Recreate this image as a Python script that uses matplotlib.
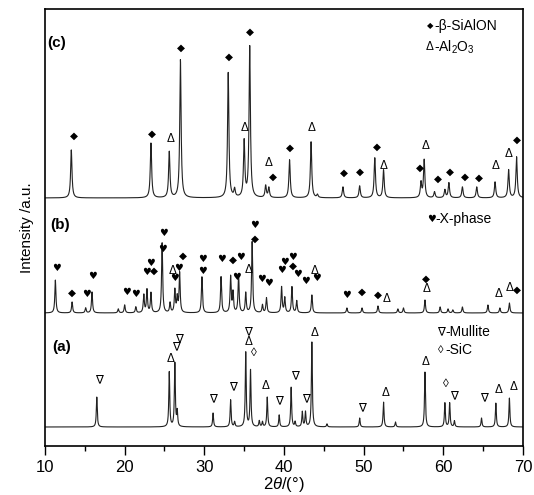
import numpy as np
import matplotlib
matplotlib.use("Agg")
import matplotlib.pyplot as plt
from matplotlib.ticker import MultipleLocator

plt.rcParams['font.family'] = ['Liberation Sans', 'DejaVu Sans']
plt.rcParams['mathtext.fontset'] = 'custom'
plt.rcParams['mathtext.rm'] = 'Liberation Sans'
plt.rcParams['mathtext.it'] = 'Liberation Sans:italic'

# peak positions (2theta, deg) and heights (a.u.)
c_pos = [13.3, 23.3, 25.6, 27.0, 33.0, 33.8, 35.0, 35.7, 37.7, 38.1, 40.7, 43.4, 44.2,
         47.4, 49.5, 51.4, 52.5, 57.2, 57.6, 58.9, 60.2, 60.7, 62.4, 64.2, 66.5, 68.2, 69.2]
c_int = [48, 55, 46, 138, 125, 8, 56, 151, 12, 10, 38, 56, 3,
         11, 12, 40, 28, 15, 38, 6, 8, 15, 11, 11, 16, 28, 41]

b_pos = [11.3, 13.4, 15.1, 15.9, 19.2, 20.0, 21.4, 22.4, 22.8, 23.3, 24.7, 25.7, 26.3,
         26.6, 26.9, 29.7, 32.1, 33.3, 33.6, 34.3, 35.2, 36.0, 37.3, 37.8, 39.7, 40.1,
         41.0, 41.6, 43.5, 47.9, 49.8, 51.8, 54.3, 55.0, 57.7, 59.6, 60.6, 61.2, 62.4,
         65.6, 67.1, 68.3]
b_int = [33, 11, 5, 21, 4, 8, 6, 18, 23, 20, 70, 10, 23,
         15, 40, 36, 36, 36, 20, 38, 20, 71, 8, 15, 26, 15,
         26, 12, 18, 5, 5, 7, 4, 5, 13, 6, 4, 3, 6,
         8, 5, 10]

a_pos = [16.5, 25.6, 26.3, 26.6, 31.1, 33.3, 33.8, 35.2, 35.8, 36.9, 37.3, 37.9, 39.4,
         40.9, 41.4, 42.3, 42.7, 43.5, 45.4, 49.5, 52.5, 54.0, 57.7, 60.2, 60.8, 61.4,
         64.8, 66.6, 68.3]
a_int = [30, 55, 64, 15, 14, 27, 5, 75, 57, 6, 5, 30, 12,
         40, 5, 15, 15, 85, 3, 9, 25, 5, 55, 24, 24, 6,
         9, 24, 29]

offsets = {"a": 19, "b": 133, "c": 248}

# phase markers: (symbol, 2theta, height)
c_marks = [("◆", 13.6, 310), ("◆", 23.4, 312), ("Δ", 25.8, 307), ("◆", 27.1, 398),
           ("◆", 33.1, 389), ("◆", 35.7, 414), ("Δ", 35.0, 318), ("Δ", 38.1, 283),
           ("◆", 38.6, 269), ("◆", 40.7, 298), ("Δ", 43.4, 318), ("◆", 47.5, 273),
           ("◆", 49.6, 274), ("◆", 51.7, 299), ("Δ", 52.5, 280), ("◆", 57.1, 278),
           ("Δ", 57.8, 300), ("◆", 59.3, 267), ("◆", 60.9, 274), ("◆", 62.7, 269),
           ("◆", 64.5, 268), ("Δ", 66.5, 280), ("Δ", 68.2, 292), ("◆", 69.2, 306)]

b_marks = [("♥", 11.5, 178), ("◆", 13.4, 153), ("♥", 15.2, 152), ("♥", 16.0, 170),
           ("♥", 20.2, 154), ("♥", 21.4, 152), ("♥", 22.7, 174), ("♥", 23.2, 183),
           ("◆", 23.7, 175), ("♥", 24.7, 197), ("♥", 24.9, 213), ("Δ", 26.0, 175),
           ("♥", 26.3, 168), ("♥", 26.7, 178), ("◆", 27.3, 190), ("♥", 29.8, 187),
           ("♥", 29.8, 175), ("♥", 32.2, 187), ("◆", 33.6, 186), ("♥", 34.6, 189),
           ("♥", 34.1, 169), ("Δ", 35.5, 176), ("◆", 36.3, 207), ("♥", 36.3, 221),
           ("♥", 37.2, 167), ("♥", 38.1, 163), ("♥", 39.7, 176), ("♥", 40.1, 184),
           ("♥", 41.1, 189), ("◆", 41.1, 180), ("♥", 41.7, 172), ("♥", 42.7, 165),
           ("Δ", 43.8, 175), ("♥", 44.1, 168), ("♥", 47.8, 151), ("◆", 49.8, 154),
           ("◆", 51.8, 151), ("Δ", 52.9, 147), ("◆", 57.8, 167), ("Δ", 57.9, 157),
           ("Δ", 67.0, 152), ("Δ", 68.3, 158), ("◆", 69.3, 156)]

a_marks = [("∇", 16.8, 66), ("Δ", 25.8, 87), ("∇", 26.4, 99), ("∇", 26.8, 107),
           ("∇", 31.1, 47), ("∇", 33.6, 59), ("∇", 35.5, 114), ("Δ", 35.5, 104),
           ("◊", 36.2, 93), ("Δ", 37.7, 60), ("∇", 39.4, 45), ("∇", 41.4, 70),
           ("∇", 42.7, 47), ("Δ", 43.8, 113), ("∇", 49.8, 38), ("Δ", 52.7, 53),
           ("Δ", 57.8, 84), ("◊", 60.3, 62), ("∇", 61.3, 50), ("∇", 65.1, 48),
           ("Δ", 66.9, 56), ("Δ", 68.8, 59)]


def pattern(pos, hgt, w):
    tt = np.linspace(10, 70, 4000)
    y = np.zeros_like(tt)
    for p, h in zip(pos, hgt):
        y += h / (1 + ((tt - p) / w) ** 2)
    return tt, y


def mark(ax, x, y, sym, size=None):
    if sym == "♥":
        ax.text(x, y, sym, ha="center", va="center", fontsize=size or 7,
                family="DejaVu Sans")
    elif sym == "◆":
        ax.text(x, y, sym, ha="center", va="center", fontsize=size or 7.5,
                family="DejaVu Sans")
    else:
        ax.text(x, y, sym, ha="center", va="center", fontsize=size or 8.5)


fig = plt.figure(figsize=(5.34, 4.95), dpi=100)
ax = fig.add_axes([0.0843, 0.099, 0.895, 0.883])

for key, pos, hgt, w in [("a", a_pos, a_int, 0.07), ("b", b_pos, b_int, 0.08),
                         ("c", c_pos, c_int, 0.1)]:
    tt, y = pattern(pos, hgt, w)
    ax.plot(tt, y + offsets[key], color="#222222", lw=0.8)

for marks in (a_marks, b_marks, c_marks):
    for sym, x, y in marks:
        mark(ax, x, y, sym)

# phase legends
legend_items = [("◆", "-β-SiAlON", 58.3, 420, 6), ("Δ", "-Al$_2$O$_3$", 58.3, 399, 8.5),
                ("♥", "-X-phase", 58.5, 227, 7), ("∇", "-Mullite", 59.7, 114, 8.5),
                ("◊", "-SiC", 59.7, 96, 8)]
for sym, label, x, y, sz in legend_items:
    mark(ax, x, y, sym, sz)
    ax.text(x + 0.55, y, label, fontsize=10, va="center")

# panel labels
ax.text(10.25, 403, "(c)", fontsize=11, fontweight="bold", va="center")
ax.text(10.6, 221, "(b)", fontsize=11, fontweight="bold", va="center")
ax.text(10.9, 99, "(a)", fontsize=11, fontweight="bold", va="center")

ax.set_xlim(10, 70)
ax.set_ylim(0, 437)
ax.xaxis.set_major_locator(MultipleLocator(10))
ax.xaxis.set_minor_locator(MultipleLocator(5))
ax.set_yticks([])
ax.tick_params(axis="x", which="major", direction="out", length=6.5, width=1, labelsize=12)
ax.tick_params(axis="x", which="minor", direction="out", length=3.6, width=1)
for s in ax.spines.values():
    s.set_linewidth(1.2)

ax.set_xlabel("2$\\theta$/(°)", fontsize=12, labelpad=0)
ax.set_ylabel("Intensity /a.u.", fontsize=11, labelpad=8)

fig.savefig("out.png", dpi=100)
